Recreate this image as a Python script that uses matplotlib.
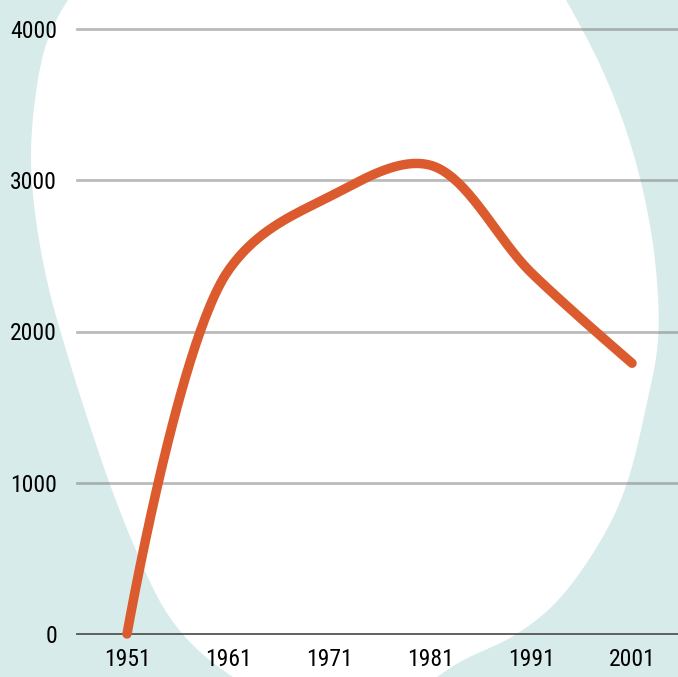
import numpy as np
import matplotlib
matplotlib.use("Agg")
import matplotlib.pyplot as plt
from matplotlib import font_manager as fm

# ---- data ----
years = [1951, 1961, 1971, 1981, 1991, 2001]
values = [0, 2400, 2890, 3100, 2390, 1790]
yticks = [0, 1000, 2000, 3000, 4000]
xtick_labels = [str(y) for y in years]

W, H = 678, 677
fig = plt.figure(figsize=(W / 100, H / 100), dpi=100)
fig.patch.set_facecolor('#d7ebea')

# pick a condensed font if available
names = {f.name for f in fm.fontManager.ttflist}
stretch = 'normal'
family = 'DejaVu Sans'
for cand in ['Liberation Sans Narrow', 'Roboto Condensed', 'Open Sans Condensed',
             'DejaVu Sans Condensed']:
    if cand in names:
        family = cand
        break
else:
    cond = [f for f in fm.fontManager.ttflist
            if f.name == 'DejaVu Sans' and 'ondensed' in f.fname]
    if cond:
        stretch = 'condensed'


def catmull_ctrl(pts, closed=False):
    pts = np.asarray(pts, float)
    n = len(pts)
    segs = []
    for i in range(n if closed else n - 1):
        p0 = pts[(i - 1) % n] if (closed or i > 0) else pts[0]
        p1 = pts[i % n]
        p2 = pts[(i + 1) % n]
        p3 = pts[(i + 2) % n] if (closed or i + 2 < n) else pts[n - 1]
        segs.append((p1, p1 + (p2 - p0) / 6, p2 - (p3 - p1) / 6, p2))
    return segs


def centripetal_ctrl(pts, alpha=0.5):
    """d3.curveCatmullRom (alpha=0.5) bezier segments."""
    pts = np.asarray(pts, float)
    n = len(pts)
    segs = []
    for i in range(n - 1):
        P1, P2 = pts[i], pts[i + 1]
        d12 = np.linalg.norm(P2 - P1) ** alpha
        if i > 0:
            P0 = pts[i - 1]
            d01 = np.linalg.norm(P1 - P0) ** alpha
            a = 2 * d01 ** 2 + 3 * d01 * d12 + d12 ** 2
            c1 = (P1 * a - P0 * d12 ** 2 + P2 * d01 ** 2) / (3 * d01 * (d01 + d12))
        else:
            c1 = P1
        if i + 2 < n:
            P3 = pts[i + 2]
            d23 = np.linalg.norm(P3 - P2) ** alpha
            b = 2 * d23 ** 2 + 3 * d23 * d12 + d12 ** 2
            c2 = (P2 * b + P1 * d23 ** 2 - P3 * d12 ** 2) / (3 * d23 * (d23 + d12))
        else:
            c2 = P2
        segs.append((P1, c1, c2, P2))
    return segs


def sample(segs, k=60):
    t = np.linspace(0, 1, k)[:, None]
    out = []
    for a, b, c, d in segs:
        out.append((1 - t) ** 3 * a + 3 * t * (1 - t) ** 2 * b
                   + 3 * t ** 2 * (1 - t) * c + t ** 3 * d)
    return np.vstack(out)


# ---- decorative white blob on a background axes ----
bg = fig.add_axes([0, 0, 1, 1], zorder=-1)
bg.set_xlim(0, W)
bg.set_ylim(H, 0)
bg.axis('off')
blob = [(105, -45), (68, 0), (46, 45), (35, 100), (31, 160), (36, 220), (48, 285),
        (66, 350), (88, 420), (112, 490), (138, 555), (165, 610), (198, 650),
        (245, 685), (300, 715), (360, 718), (410, 695), (460, 662), (515, 635),
        (560, 598), (601, 540), (627, 483), (646, 407), (658, 340), (656, 270),
        (645, 200), (627, 133), (601, 67), (566, 0), (535, -50), (320, -75)]
bpoly = sample(catmull_ctrl(blob, closed=True))
bg.fill(bpoly[:, 0], bpoly[:, 1], color='white', lw=0, clip_on=False)

# ---- axes ----
left = 77 / W
bottom = 1 - 634 / H
top = 1 - 29 / H
ax = fig.add_axes([left, bottom, 1 - left, top - bottom], zorder=1)
ax.set_facecolor('none')
ax.set_xlim(1946.05, 2005.55)
ax.set_ylim(0, 4000)
for s in ax.spines.values():
    s.set_visible(False)

for v in yticks[1:]:
    ax.axhline(v, color='#777777', alpha=0.5, lw=2, zorder=1, clip_on=False)
ax.axhline(0, color='#555555', lw=1.3, zorder=1, clip_on=False)

# smooth curve (centripetal Catmull-Rom in display space) through data
disp = ax.transData.transform(np.column_stack([years, values]))
curve_disp = sample(centripetal_ctrl(disp))
curve = ax.transData.inverted().transform(curve_disp)
ax.plot(curve[:, 0], curve[:, 1], color='#dc5b2e', lw=6.8,
        solid_capstyle='round', solid_joinstyle='round', zorder=3, clip_on=False)

ax.set_yticks(yticks)
ax.set_yticklabels([str(v) for v in yticks])
ax.set_xticks(years)
ax.set_xticklabels(xtick_labels)
ax.tick_params(axis='both', length=0, labelsize=17, colors='black')
ax.tick_params(axis='y', pad=14.4)
ax.tick_params(axis='x', pad=10)
for lab in ax.get_xticklabels() + ax.get_yticklabels():
    lab.set_family(family)
    lab.set_stretch(stretch)

fig.savefig('out.png', dpi=100, facecolor=fig.get_facecolor())
